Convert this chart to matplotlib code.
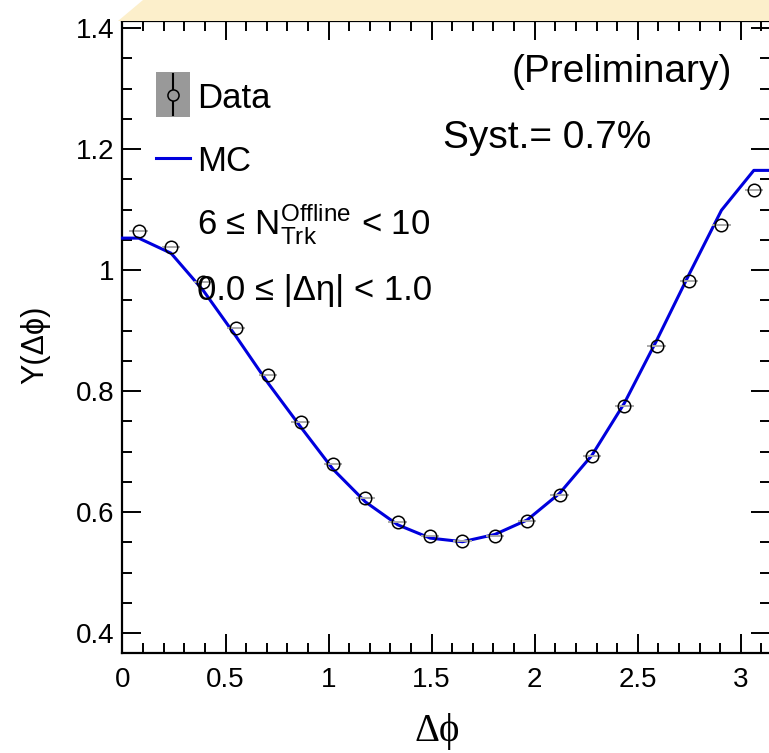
import numpy as np
import matplotlib
matplotlib.use("Agg")
import matplotlib.pyplot as plt
from matplotlib.patches import Rectangle, Polygon
from matplotlib.lines import Line2D
from matplotlib.ticker import MultipleLocator, FuncFormatter

# Y(dphi) per dphi bin (20 bins over 0..pi)
n_bins = 20
dphi = (np.arange(n_bins) + 0.5) * np.pi / n_bins
data_y = [1.064, 1.038, 0.980, 0.905, 0.826, 0.749, 0.680, 0.624, 0.583, 0.560,
          0.552, 0.561, 0.586, 0.629, 0.693, 0.776, 0.875, 0.982, 1.075, 1.132]
data_xerr = 0.045
mc_y = [1.053, 1.028, 0.966, 0.891, 0.813, 0.741, 0.671, 0.617, 0.579, 0.557,
        0.551, 0.563, 0.587, 0.631, 0.694, 0.780, 0.884, 0.993, 1.099, 1.165]

W, H = 769, 753
plt.rcParams['font.family'] = ['Liberation Sans', 'DejaVu Sans']
plt.rcParams['mathtext.fontset'] = 'custom'
plt.rcParams['mathtext.rm'] = 'Liberation Sans'
plt.rcParams['mathtext.it'] = 'Liberation Sans:italic'

fig = plt.figure(figsize=(W / 100, H / 100), dpi=100)


def fx(px):
    return px / W


def fy(py):
    return 1 - py / H


# light band above the frame
band = Polygon([(fx(118), fy(21)), (fx(143), fy(0)), (fx(W), fy(0)), (fx(W), fy(21))],
               closed=True, transform=fig.transFigure, facecolor='#fcefcb',
               edgecolor='none', zorder=0)
fig.patches.append(band)

ax = fig.add_axes([fx(122.5), fy(653), fx(770) - fx(122.5), fy(21) - fy(653)])
ax.set_xlim(0, np.pi)
ax.set_ylim(0.367, 1.412)

# MC curve, held flat out to the edges of the range
mc_x = np.concatenate([[0.0], dphi, [np.pi]])
mc_line = np.concatenate([[mc_y[0]], mc_y, [mc_y[-1]]])
ax.plot(mc_x, mc_line, color='#0000dd', lw=2.2, zorder=3, clip_on=False)

ax.errorbar(dphi, data_y, xerr=data_xerr, fmt='none', ecolor='#aaaaaa',
            elinewidth=1.4, zorder=4)
ax.plot(dphi, data_y, 'o', mfc='none', mec='black', ms=9, mew=1.1, zorder=5)

ax.xaxis.set_major_locator(MultipleLocator(0.5))
ax.xaxis.set_minor_locator(MultipleLocator(0.1))
ax.yaxis.set_major_locator(MultipleLocator(0.2))
ax.yaxis.set_minor_locator(MultipleLocator(0.05))
ax.tick_params(which='both', direction='in', top=True, right=True,
               width=1.4, labelsize=20, colors='black')
ax.tick_params(which='major', length=14)
ax.tick_params(which='minor', length=7)
ax.tick_params(axis='x', which='major', pad=10)
ax.tick_params(axis='y', which='major', pad=6)
ax.xaxis.set_major_formatter(FuncFormatter(lambda v, p: f"{v:g}"))
ax.yaxis.set_major_formatter(FuncFormatter(lambda v, p: f"{v:g}"))
for s in ax.spines.values():
    s.set_linewidth(1.6)

serif = ['Liberation Serif', 'DejaVu Serif']
fig.text(fx(437), fy(732), 'Δϕ', family=serif, fontsize=28, ha='center', va='center')
fig.text(fx(35), fy(345), 'Y(Δϕ)', fontsize=22, rotation=90, ha='center', va='center')

# legend
fig.patches.append(Rectangle((fx(156), fy(117)), fx(190) - fx(156), fy(72) - fy(117),
                             transform=fig.transFigure, facecolor='#999999',
                             edgecolor='none', zorder=5))
fig.add_artist(Line2D([fx(173), fx(173)], [fy(115), fy(74)], color='black', lw=1.5, zorder=6))
fig.add_artist(Line2D([fx(173)], [fy(95)], marker='o', mfc='#999999', mec='black',
                      ms=8, mew=1.1, zorder=7))
fig.add_artist(Line2D([fx(156), fx(190)], [fy(158), fy(158)], color='#0000dd', lw=2.2))
fig.text(fx(197), fy(108), 'Data', fontsize=25, va='baseline')
fig.text(fx(197), fy(171), 'MC', fontsize=25, va='baseline')
fig.text(fx(197), fy(235), r'6 ≤ N$^{\rm Offline}_{\rm Trk}$ < 10', fontsize=25, va='baseline')
fig.text(fx(197), fy(300), '0.0 ≤ |Δη| < 1.0', fontsize=25, va='baseline')

fig.text(fx(512), fy(82), '(Preliminary)', fontsize=28, va='baseline')
fig.text(fx(443), fy(148), 'Syst.= 0.7%', fontsize=28, va='baseline')

fig.savefig('out.png', dpi=100)
